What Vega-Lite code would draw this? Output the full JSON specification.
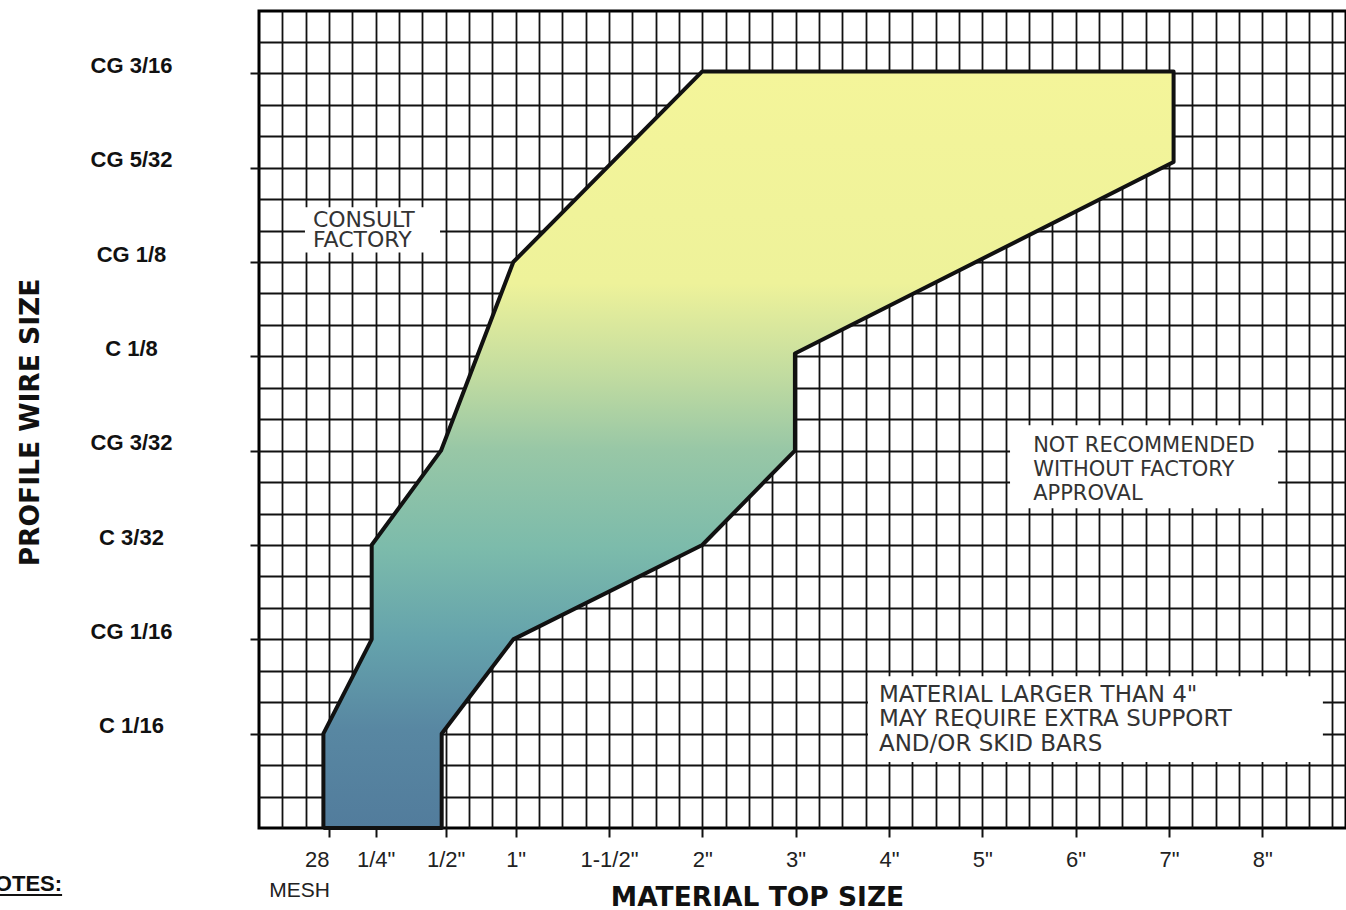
{
  "$schema": "https://vega.github.io/schema/vega-lite/v6.json",
  "width": 1087,
  "height": 817,
  "autosize": {"type": "none"},
  "padding": {"left": 259, "top": 11, "right": 0, "bottom": 82},
  "background": "white",
  "config": {"view": {"stroke": "#000", "strokeWidth": 3}},
  "datasets": {
    "outline": [
      {"i": 1, "x": 2.76, "y": 0},
      {"i": 2, "x": 2.76, "y": 1},
      {"i": 3, "x": 4.83, "y": 2},
      {"i": 4, "x": 4.83, "y": 3},
      {"i": 5, "x": 7.8, "y": 4},
      {"i": 6, "x": 10.9, "y": 6},
      {"i": 7, "x": 19, "y": 8.02},
      {"i": 8, "x": 39.2, "y": 8.02},
      {"i": 9, "x": 39.2, "y": 7.06},
      {"i": 10, "x": 22.97, "y": 5.03},
      {"i": 11, "x": 22.97, "y": 4},
      {"i": 12, "x": 19, "y": 3},
      {"i": 13, "x": 10.9, "y": 2},
      {"i": 14, "x": 7.83, "y": 1},
      {"i": 15, "x": 7.83, "y": 0},
      {"i": 16, "x": 2.76, "y": 0}
    ],
    "boxes": [
      {"box": "consult", "x1": 1.97, "x2": 7.76, "y1": 6.10, "y2": 6.58},
      {"box": "notrec", "x1": 32.19, "x2": 43.68, "y1": 3.39, "y2": 4.27},
      {"box": "material", "x1": 26.1, "x2": 45.6, "y1": 0.70, "y2": 1.61}
    ],
    "notes": [
      {"note": "consult", "x": 2.31, "y": 6.37, "text": "CONSULT\nFACTORY"},
      {"note": "notrec", "x": 33.18, "y": 3.99, "text": "NOT RECOMMENDED\nWITHOUT FACTORY\nAPPROVAL"},
      {"note": "material", "x": 26.57, "y": 1.34, "text": "MATERIAL LARGER THAN 4\"\nMAY REQUIRE EXTRA SUPPORT\nAND/OR SKID BARS"}
    ],
    "mesh": [{"x": 3.04, "y": -0.73, "text": "MESH"}],
    "notesHead": [{"x": -8.44, "y": -0.668, "text": "NOTES:"}],
    "underline": [{"x": -11.5, "x2": -8.44, "y": -0.71}]
  },
  "layer": [
    {
      "data": {"name": "boxes"},
      "mark": {"type": "rect", "fill": "white", "stroke": null},
      "encoding": {
        "x": {
          "field": "x1", "type": "quantitative",
          "scale": {"domain": [0, 46.59], "nice": false, "zero": false},
          "axis": {
            "orient": "bottom", "grid": true, "gridColor": "#111", "gridWidth": 1.8, "gridOpacity": 1,
            "labels": false, "ticks": false, "domain": false, "title": null,
            "values": [1,2,3,4,5,6,7,8,9,10,11,12,13,14,15,16,17,18,19,20,21,22,23,24,25,26,27,28,29,30,31,32,33,34,35,36,37,38,39,40,41,42,43,44,45,46]
          }
        },
        "x2": {"field": "x2"},
        "y": {
          "field": "y1", "type": "quantitative",
          "scale": {"domain": [0, 8.661], "nice": false, "zero": false},
          "axis": {
            "orient": "left", "grid": true, "gridColor": "#111", "gridWidth": 1.8, "gridOpacity": 1,
            "labels": false, "ticks": false, "domain": false, "title": null,
            "values": [0.3333,0.6667,1,1.3333,1.6667,2,2.3333,2.6667,3,3.3333,3.6667,4,4.3333,4.6667,5,5.3333,5.6667,6,6.3333,6.6667,7,7.3333,7.6667,8,8.3333]
          }
        },
        "y2": {"field": "y2"}
      }
    },
    {
      "data": {"name": "outline"},
      "mark": {
        "type": "line",
        "stroke": "#111",
        "strokeWidth": 4,
        "strokeJoin": "round",
        "fill": {
          "gradient": "linear",
          "x1": 0, "y1": 0, "x2": 0, "y2": 1,
          "stops": [
            {"offset": 0, "color": "#f4f59a"},
            {"offset": 0.28, "color": "#eef29a"},
            {"offset": 0.4, "color": "#c2dca0"},
            {"offset": 0.5, "color": "#98c7a6"},
            {"offset": 0.63, "color": "#7cbbab"},
            {"offset": 0.75, "color": "#65a3ac"},
            {"offset": 0.87, "color": "#5887a2"},
            {"offset": 1, "color": "#527c9c"}
          ]
        }
      },
      "encoding": {
        "x": {
          "field": "x", "type": "quantitative",
          "scale": {"domain": [0, 46.59], "nice": false, "zero": false},
          "axis": {
            "orient": "bottom", "grid": false, "domain": false,
            "values": [3,5,8,11,15,19,23,27,31,35,39,43],
            "labelExpr": "datum.value == 3 ? '28' : datum.value == 5 ? '1/4\"' : datum.value == 8 ? '1/2\"' : datum.value == 11 ? '1\"' : datum.value == 15 ? '1-1/2\"' : datum.value == 19 ? '2\"' : datum.value == 23 ? '3\"' : datum.value == 27 ? '4\"' : datum.value == 31 ? '5\"' : datum.value == 35 ? '6\"' : datum.value == 39 ? '7\"' : '8\"'",
            "labelAlign": {"condition": {"test": "datum.value == 3", "value": "right"}, "value": "center"},
            "labelFont": "Liberation Sans", "labelFontSize": 22, "labelColor": "#222",
            "labelBaseline": "top", "labelPadding": 12,
            "tickSize": 9, "tickWidth": 2, "tickColor": "#111",
            "title": "MATERIAL TOP SIZE",
            "titleFont": "DejaVu Sans", "titleFontWeight": "bold", "titleFontSize": 26.5, "titleColor": "#111",
            "titleX": 498, "titleY": 77, "titleAnchor": null, "titleAlign": "center", "titleBaseline": "alphabetic"
          }
        },
        "y": {
          "field": "y", "type": "quantitative",
          "scale": {"domain": [0, 8.661], "nice": false, "zero": false},
          "axis": {
            "orient": "left", "grid": false, "domain": false,
            "values": [1,2,3,4,5,6,7,8],
            "labelExpr": "datum.value == 1 ? 'C 1/16' : datum.value == 2 ? 'CG 1/16' : datum.value == 3 ? 'C 3/32' : datum.value == 4 ? 'CG 3/32' : datum.value == 5 ? 'C 1/8' : datum.value == 6 ? 'CG 1/8' : datum.value == 7 ? 'CG 5/32' : 'CG 3/16'",
            "labelAlign": "center", "labelBaseline": "middle", "labelPadding": 119, "labelOffset": -8,
            "labelFont": "Liberation Sans", "labelFontWeight": "bold", "labelFontSize": 22, "labelColor": "#111",
            "tickSize": 9, "tickWidth": 2, "tickColor": "#111",
            "title": "PROFILE WIRE SIZE",
            "titleFont": "DejaVu Sans", "titleFontWeight": "bold", "titleFontSize": 26.5, "titleColor": "#111",
            "titleX": -229, "titleY": 411, "titleAngle": 270, "titleAlign": "center", "titleBaseline": "middle", "titleAnchor": null
          }
        },
        "order": {"field": "i", "type": "quantitative"}
      }
    },
    {
      "data": {"name": "notes"},
      "transform": [{"filter": "datum.note == 'consult'"}],
      "mark": {"type": "text", "align": "left", "baseline": "alphabetic", "lineBreak": "\n", "font": "DejaVu Sans", "fontWeight": "normal", "fontSize": 22, "lineHeight": 20, "color": "#333"},
      "encoding": {
        "x": {"field": "x", "type": "quantitative", "axis": null},
        "y": {"field": "y", "type": "quantitative", "axis": null},
        "text": {"field": "text"}
      }
    },
    {
      "data": {"name": "notes"},
      "transform": [{"filter": "datum.note == 'notrec'"}],
      "mark": {"type": "text", "align": "left", "baseline": "alphabetic", "lineBreak": "\n", "font": "DejaVu Sans", "fontWeight": "normal", "fontSize": 21, "lineHeight": 24, "color": "#333"},
      "encoding": {
        "x": {"field": "x", "type": "quantitative", "axis": null},
        "y": {"field": "y", "type": "quantitative", "axis": null},
        "text": {"field": "text"}
      }
    },
    {
      "data": {"name": "notes"},
      "transform": [{"filter": "datum.note == 'material'"}],
      "mark": {"type": "text", "align": "left", "baseline": "alphabetic", "lineBreak": "\n", "font": "DejaVu Sans", "fontWeight": "normal", "fontSize": 23, "lineHeight": 24.5, "color": "#333"},
      "encoding": {
        "x": {"field": "x", "type": "quantitative", "axis": null},
        "y": {"field": "y", "type": "quantitative", "axis": null},
        "text": {"field": "text"}
      }
    },
    {
      "data": {"name": "mesh"},
      "mark": {"type": "text", "align": "right", "baseline": "alphabetic", "font": "Liberation Sans", "fontSize": 21, "color": "#222"},
      "encoding": {
        "x": {"field": "x", "type": "quantitative", "axis": null},
        "y": {"field": "y", "type": "quantitative", "axis": null},
        "text": {"field": "text"}
      }
    },
    {
      "data": {"name": "notesHead"},
      "mark": {"type": "text", "align": "right", "baseline": "alphabetic", "font": "Liberation Sans", "fontWeight": "bold", "fontSize": 22, "color": "#111"},
      "encoding": {
        "x": {"field": "x", "type": "quantitative", "axis": null},
        "y": {"field": "y", "type": "quantitative", "axis": null},
        "text": {"field": "text"}
      }
    },
    {
      "data": {"name": "underline"},
      "mark": {"type": "rule", "color": "#111", "strokeWidth": 2},
      "encoding": {
        "x": {"field": "x", "type": "quantitative", "axis": null},
        "x2": {"field": "x2"},
        "y": {"field": "y", "type": "quantitative", "axis": null}
      }
    }
  ],
  "resolve": {"axis": {"x": "independent", "y": "independent"}}
}
